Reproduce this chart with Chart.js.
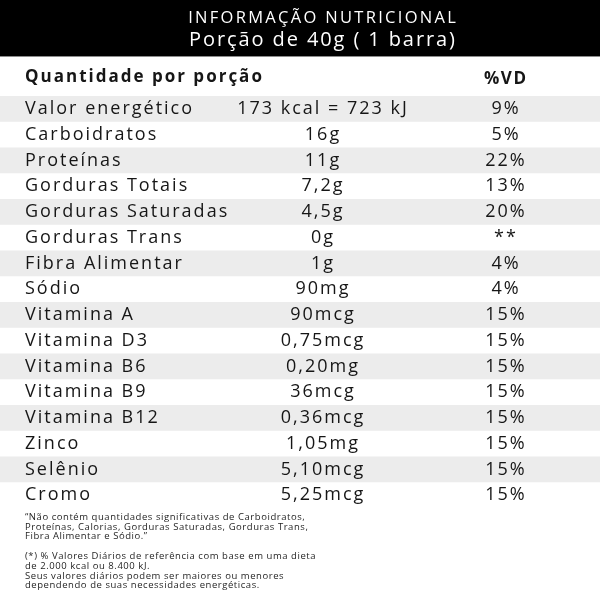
<!DOCTYPE html>
<html lang="pt-BR">
<head>
<meta charset="utf-8">
<title>Informação Nutricional</title>
<script src="https://cdn.jsdelivr.net/npm/chart.js@4.4.1/dist/chart.umd.min.js"></script>
<style>
  html, body { margin: 0; padding: 0; background: #fff; }
  #wrap { width: 600px; height: 600px; }
</style>
</head>
<body>
<div id="wrap"><canvas id="tabela" width="600" height="600"></canvas></div>
<script>
const titleLines = ['INFORMAÇÃO NUTRICIONAL', 'Porção de 40g ( 1 barra)'];
const columnHeaders = ['Quantidade por porção', '%VD'];

const nutrients = [
    'Valor energético', 'Carboidratos', 'Proteínas', 'Gorduras Totais',
    'Gorduras Saturadas', 'Gorduras Trans', 'Fibra Alimentar', 'Sódio',
    'Vitamina A', 'Vitamina D3', 'Vitamina B6', 'Vitamina B9',
    'Vitamina B12', 'Zinco', 'Selênio', 'Cromo',
];
const amounts = [
    '173 kcal = 723 kJ', '16g', '11g', '7,2g',
    '4,5g', '0g', '1g', '90mg',
    '90mcg', '0,75mcg', '0,20mg', '36mcg',
    '0,36mcg', '1,05mg', '5,10mcg', '5,25mcg',
];
const dailyValues = [
    '9%', '5%', '22%', '13%',
    '20%', '**', '4%', '4%',
    '15%', '15%', '15%', '15%',
    '15%', '15%', '15%', '15%',
];

const footnotes = [
    '“Não contém quantidades significativas de Carboidratos,',
    'Proteínas, Calorias, Gorduras Saturadas, Gorduras Trans,',
    'Fibra Alimentar e Sódio.”',
    '',
    '(*) % Valores Diários de referência com base em uma dieta',
    'de 2.000 kcal ou 8.400 kJ.',
    'Seus valores diários podem ser maiores ou menores',
    'dependendo de suas necessidades energéticas.',
];

const FONT = '"Open Sans", sans-serif';
const INK = '#161616';
const STRIPE = '#ececec';

// columns: names left, amounts centred, %VD centred
const COL_NAME = 25;
const COL_AMOUNT = 322;
const COL_VD = 505;

function drawText(ctx, str, x, y, size, opts = {}) {
    ctx.font = `${opts.weight || 400} ${size}px ${FONT}`;
    ctx.letterSpacing = (opts.spacing || 0) + 'px';
    ctx.fillStyle = opts.color || INK;
    ctx.textAlign = opts.align || 'left';
    ctx.textBaseline = 'middle';
    const shift = opts.align === 'center' ? (opts.spacing || 0) / 2 : 0;
    ctx.fillText(str, x + shift, y);
}

const tablePlugin = {
    id: 'tabelaNutricional',
    beforeDraw(chart) {
        const { ctx, width } = chart;
        ctx.save();
        ctx.fillStyle = '#000';
        ctx.fillRect(0, 0, width, 56);
        ctx.fillStyle = '#8c8c8c';
        ctx.fillRect(0, 56, width, 1);
        ctx.restore();
    },
    beforeDatasetsDraw(chart) {
        const { ctx, width, scales: { y } } = chart;
        const rowH = y.height / nutrients.length;
        ctx.save();
        ctx.fillStyle = STRIPE;
        nutrients.forEach((_, i) => {
            if (i % 2) return;
            const cy = y.getPixelForValue(i);
            ctx.fillRect(0, cy - rowH / 2, width, rowH);
        });
        ctx.restore();
    },
    afterDraw(chart) {
        const { ctx, scales: { y } } = chart;
        ctx.save();

        drawText(ctx, titleLines[0], COL_AMOUNT, 18, 16.5, { color: '#fff', align: 'center', spacing: 2.3 });
        drawText(ctx, titleLines[1], COL_AMOUNT, 40, 20, { color: '#fff', align: 'center', spacing: 1.9 });

        drawText(ctx, columnHeaders[0], COL_NAME, 77, 17, { weight: 700, spacing: 2 });
        drawText(ctx, columnHeaders[1], COL_VD, 79, 17, { weight: 700, align: 'center', spacing: 1.6 });

        nutrients.forEach((name, i) => {
            const cy = y.getPixelForValue(i);
            drawText(ctx, name, COL_NAME, cy, 18, { spacing: 2 });
            drawText(ctx, amounts[i], COL_AMOUNT, cy, 18, { align: 'center', spacing: 2 });
            drawText(ctx, dailyValues[i], COL_VD, cy, 18, { align: 'center', spacing: 2 });
        });

        footnotes.forEach((line, i) => {
            if (line) drawText(ctx, line, COL_NAME, 517 + i * 9.8, 9.5, { spacing: 0.55, color: '#1e1e1e' });
        });

        ctx.restore();
    },
};

new Chart(document.getElementById('tabela'), {
    type: 'bar',
    data: {
        labels: nutrients,
        datasets: [],
    },
    options: {
        indexAxis: 'y',
        responsive: false,
        animation: false,
        layout: { padding: { top: 96, bottom: 92, left: 0, right: 0 } },
        scales: {
            x: { display: false },
            y: { display: false },
        },
        plugins: {
            legend: { display: false },
            tooltip: { enabled: false },
        },
    },
    plugins: [tablePlugin],
});
</script>
</body>
</html>
